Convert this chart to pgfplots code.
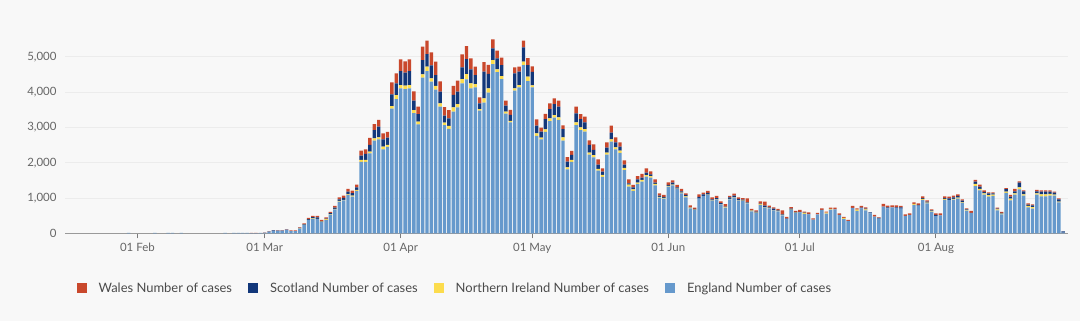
\documentclass[border=0pt]{standalone}
\usepackage{pgfplots}
\pgfplotsset{compat=1.18}
\usepackage{pgfplotstable}
\usepackage{fontspec}
\setmainfont{Lato}
\definecolor{eng}{HTML}{6699CC}
\definecolor{ni}{HTML}{FCDC4D}
\definecolor{sco}{HTML}{12377A}
\definecolor{wal}{HTML}{C9482C}
\definecolor{bgc}{HTML}{F8F8F8}
\definecolor{gridc}{HTML}{ECECEC}
\definecolor{axc}{HTML}{9A9A9A}
\definecolor{labc}{HTML}{666666}
\definecolor{legc}{HTML}{4A4A4A}
\pgfplotsset{sqlegend/.style={legend image code/.code={\path[draw=none,fill=none] (-16bp,0bp) -- (22bp,0bp); \fill[##1] (0bp,-5bp) rectangle (10bp,5bp);}}}
\pgfplotstableread{
d eng ni sco wal
-2 15 0 0 0
4 15 0 0 0
7 15 0 0 0
8 15 0 0 0
10 15 0 0 0
20 12 0 0 0
22 12 0 0 0
23 12 0 0 0
24 12 0 0 0
25 12 0 0 0
26 5 0 0 10
27 5 0 0 10
28 15 0 0 0
29 20 0 0 5
30 40 0 10 7
31 65 0 15 5
32 65 0 10 10
33 65 0 10 10
34 90 0 15 8
35 60 0 5 20
36 60 0 5 20
37 135 5 15 15
38 230 8 15 30
39 370 10 25 29
40 410 10 35 36
41 400 10 40 41
42 320 8 20 30
43 380 20 15 38
44 530 10 30 34
45 680 15 35 44
46 897 19 47 57
47 930 20 57 60
48 1080 25 76 75
49 1040 25 70 73
50 1200 28 75 75
51 2020 57 123 142
52 2020 57 170 132
53 2266 47 189 198
54 2624 66 236 170
55 2662 57 302 189
56 2379 75 208 170
57 2445 57 208 160
58 3531 75 330 340
59 3804 113 330 283
60 4106 94 396 330
61 4087 94 368 321
62 4106 94 396 330
63 3408 85 264 264
64 3087 75 217 208
65 4408 94 406 378
66 4597 123 359 378
67 4295 94 368 368
68 4069 104 311 378
69 3587 94 330 293
70 3068 66 198 245
71 2955 85 217 236
72 3446 123 349 255
73 3568 94 349 311
74 4248 123 330 368
75 4361 151 425 368
76 4106 142 396 311
77 4135 94 255 236
78 3474 47 160 170
79 3700 123 755 274
80 3984 123 406 255
81 4795 113 330 255
82 4569 75 311 217
83 4371 85 311 208
84 3389 57 170 142
85 3144 38 170 142
86 4040 66 425 170
87 4135 66 378 142
88 4767 94 406 189
89 4314 123 330 198
90 4135 57 378 160
91 2757 75 217 179
92 2662 47 170 113
93 2870 75 293 142
94 3181 75 264 160
95 3276 75 311 160
96 3210 75 302 170
97 2624 94 236 104
98 1812 57 160 132
99 2020 57 142 113
100 3068 75 255 189
101 2926 75 236 142
102 2879 75 189 160
103 2228 57 217 132
104 2152 66 142 160
105 1775 47 123 151
106 1595 57 94 94
107 2228 57 142 151
108 2596 66 189 198
109 2379 57 142 142
110 2275 66 113 123
111 1793 57 94 123
112 1321 57 38 113
113 1199 47 57 66
114 1397 38 94 94
115 1463 47 66 104
116 1604 47 66 123
117 1576 47 47 85
118 1359 38 38 94
119 1010 19 38 66
120 982 19 28 57
121 1322 19 28 75
122 1359 19 57 66
123 1256 9 38 66
124 1133 19 38 66
125 1020 28 38 47
126 708 19 9 57
127 661 9 19 38
128 982 0 47 75
129 1057 0 47 47
130 1086 9 47 57
131 925 9 28 57
132 953 9 38 57
133 821 9 28 47
134 727 19 9 75
135 963 9 47 38
136 1010 9 47 57
137 925 9 38 47
138 916 9 28 47
139 850 9 19 113
140 623 19 9 38
141 576 9 28 38
142 802 28 9 66
143 727 9 47 113
144 708 9 19 47
145 651 9 38 38
146 623 9 19 38
147 510 9 19 113
148 406 0 9 47
149 661 9 28 47
150 576 9 19 28
151 595 0 9 57
152 548 28 9 28
153 538 0 9 47
154 387 0 0 38
155 538 0 0 38
156 661 0 0 47
157 557 28 0 28
158 670 19 0 38
159 680 0 0 47
160 519 0 0 47
161 406 28 0 28
162 349 0 0 28
163 718 0 0 57
164 633 38 0 38
165 708 0 19 47
166 651 28 19 38
167 566 0 28 0
168 472 0 0 47
169 415 0 19 19
170 755 0 0 76
171 708 0 28 47
172 736 0 0 57
173 717 0 19 57
174 699 0 38 38
175 491 0 0 47
176 519 0 0 47
177 803 28 0 47
178 784 0 19 47
179 944 28 28 47
180 850 19 28 38
181 614 19 19 28
182 491 0 28 47
183 510 0 0 57
184 944 28 28 47
185 944 0 47 47
186 953 19 47 47
187 982 28 47 47
188 859 19 47 38
189 642 19 19 28
190 576 0 0 57
191 1340 57 66 47
192 1218 38 66 57
193 1095 38 38 47
194 1038 47 47 28
195 1057 38 38 28
196 651 28 19 28
197 538 19 19 28
198 1146 38 66 28
199 935 47 57 47
200 1095 38 57 66
201 1246 57 132 38
202 1067 38 85 28
203 736 38 38 38
204 698 47 47 28
205 1095 38 57 38
206 1048 57 76 38
207 1048 57 76 38
208 1067 47 66 38
209 1067 28 57 28
210 878 19 66 28
211 19 0 38 0
}\data
\begin{document}
\begin{tikzpicture}[x=1bp,y=1bp]
\fill[bgc] (0,0) rectangle (1080,321);
\path[use as bounding box] (0,0) rectangle (1080,321);
\begin{axis}[
  at={(65bp,87.7bp)}, anchor=south west,
  scale only axis, width=1003bp, height=204.74bp,
  xmin=-16.5, xmax=212.1, ymin=0, ymax=5800,
  enlargelimits=false, clip=false,
  ybar stacked, bar width=0.78,
  axis lines*=left,
  x axis line style={color=axc, line width=0.9bp},
  y axis line style={draw=none},
  ytick={0,1000,2000,3000,4000,5000},
  ymajorgrids, grid style={color=gridc, line width=0.7bp},
  y tick style={draw=none},
  xtick={0,29,60,90,121,151,182},
  xticklabels={01 Feb,01 Mar,01 Apr,01 May,01 Jun,01 Jul,01 Aug},
  x tick style={color=axc!80!black, line width=0.9bp},
  tick align=outside, major tick length=5bp,
  scaled y ticks=false,
  /pgf/number format/assume math mode=true,
  /pgf/number format/1000 sep={,},
  tick label style={font=\fontsize{11.5}{13}\selectfont, text=labc},
  yticklabel style={xshift=0bp},
  xticklabel style={yshift=-1.5bp},
  reverse legend,
  legend columns=4,
  legend style={at={(axis description cs:-0.0044,-0.2695)}, anchor=west,
    draw=none, fill=none, inner sep=0pt, outer sep=0pt, text=legc,
    font=\fontsize{13}{15}\selectfont,
    nodes={inner sep=0pt, outer sep=0pt},
    column sep=0pt},
]
\addplot[fill=eng, draw=none, sqlegend] table[x=d,y=eng]{\data};
\addlegendentry{England Number of cases}
\addplot[fill=ni, draw=none, sqlegend] table[x=d,y=ni]{\data};
\addlegendentry{Northern Ireland Number of cases}
\addplot[fill=sco, draw=none, sqlegend] table[x=d,y=sco]{\data};
\addlegendentry{Scotland Number of cases}
\addplot[fill=wal, draw=none, sqlegend] table[x=d,y=wal]{\data};
\addlegendentry{Wales Number of cases}
\end{axis}
\end{tikzpicture}
\end{document}
